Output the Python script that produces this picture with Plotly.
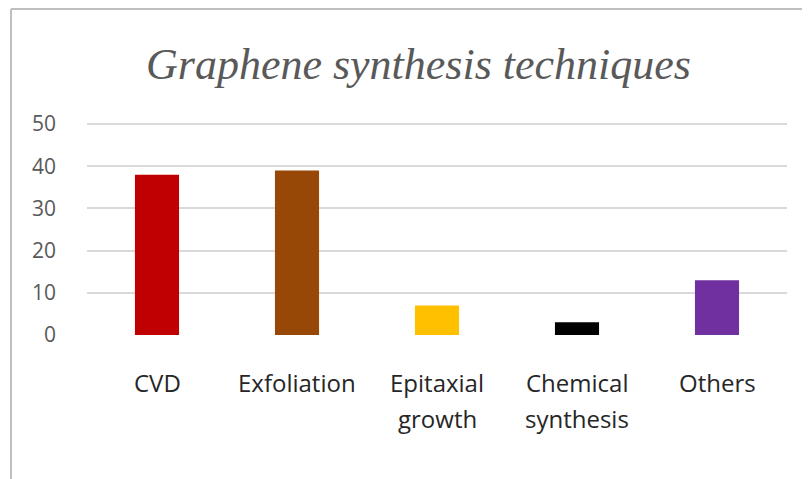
import plotly.graph_objects as go

categories = ["CVD", "Exfoliation", "Epitaxial growth", "Chemical synthesis", "Others"]
values = [38, 39, 7, 3, 13]
bar_colors = ["#C00000", "#974706", "#FFC000", "#000000", "#7030A0"]
title_text = "Graphene synthesis techniques"
y_ticks = [0, 10, 20, 30, 40, 50]

W, H = 810, 479
OFF = 8  # page body margin
Y_MAX = 50.5
L, R = 87 - OFF, 810 - (787 - OFF)
T, B = 122 - OFF, 479 - (335 - OFF)
pw = W - L - R
ph = H - T - B

fig = go.Figure(go.Bar(
    x=categories, y=values,
    marker=dict(color=bar_colors, line=dict(width=0)),
    width=0.315,
))

def px_to_paper_x(px):
    return (px - OFF - L) / pw

def py_to_paper_y(py):
    return 1 - (py - OFF - T) / ph

annotations = []
for c in categories:
    parts = c.split(" ")
    for i, p in enumerate(parts):
        annotations.append(dict(
            x=c, xref="x", y=py_to_paper_y(382 + 36 * i), yref="paper",
            text=p, showarrow=False, xanchor="center", yanchor="middle",
            font=dict(family="Open Sans, DejaVu Sans, sans-serif", size=24, color="#262626"),
        ))

annotations.append(dict(
    x=px_to_paper_x(418), xref="paper", y=py_to_paper_y(65), yref="paper",
    text="<i>" + title_text + "</i>", showarrow=False, xanchor="center", yanchor="middle",
    font=dict(family="Liberation Serif, serif", size=44, color="#595959"),
))

fig.update_layout(
    width=W, height=H,
    margin=dict(l=L, r=R, t=T, b=B, autoexpand=False),
    paper_bgcolor="white", plot_bgcolor="white",
    showlegend=False,
    xaxis=dict(showticklabels=False, showgrid=False, zeroline=False, showline=False, ticks=""),
    yaxis=dict(range=[0, Y_MAX], tickvals=y_ticks, showgrid=True, gridcolor="#D9D9D9", gridwidth=1.5,
               zeroline=False, showline=False, ticks="", ticklabelstandoff=30,
               tickfont=dict(family="Open Sans, DejaVu Sans, sans-serif", size=21, color="#595959")),
    annotations=annotations,
    shapes=[
        dict(type="line", xref="paper", yref="paper",
             x0=px_to_paper_x(11), x1=px_to_paper_x(840), y0=py_to_paper_y(9), y1=py_to_paper_y(9),
             line=dict(color="#BFBFBF", width=2)),
        dict(type="line", xref="paper", yref="paper",
             x0=px_to_paper_x(11), x1=px_to_paper_x(11), y0=py_to_paper_y(9), y1=py_to_paper_y(520),
             line=dict(color="#BFBFBF", width=2)),
    ],
)

fig.write_html("out.html")
